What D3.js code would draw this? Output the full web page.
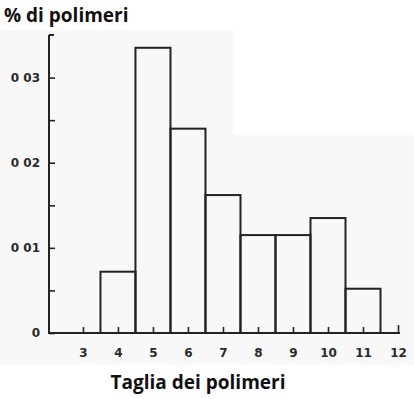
<!DOCTYPE html>
<html lang="it">
<head>
<meta charset="UTF-8">
<title>Taglia dei polimeri</title>
<style>
    body { margin: 0; background: #fff; }
    .tick text { font-family: "DejaVu Sans", sans-serif; font-size: 12px; fill: #2a2a2a; }
    .title { font-family: "Open Sans", "Noto Sans", sans-serif; font-weight: 700; fill: #111; }
</style>
</head>
<body>
<script src="https://cdn.jsdelivr.net/npm/d3@7"></script>
<script>
    // polymer size classes and fractions
    const sizes = [4, 5, 6, 7, 8, 9, 10, 11];
    const fractions = [0.0072, 0.0335, 0.0240, 0.0162, 0.0115, 0.0115, 0.0135, 0.0052];
    const xTicks = [3, 4, 5, 6, 7, 8, 9, 10, 11, 12];
    const yTicks = [0, 0.005, 0.01, 0.015, 0.02, 0.025, 0.03];
    const yTickLabels = { 0: "0", 0.01: "0 01", 0.02: "0 02", 0.03: "0 03" };

    const svg_w = 414, svg_h = 399;
    const x0 = 49, x1 = 400, yBase = 333, yTop = 35;

    const svg = d3.select("body").append("svg")
        .attr("width", svg_w)
        .attr("height", svg_h);

    // faint scanned-paper background
    svg.append("rect").attr("x", 0).attr("y", 30).attr("width", svg_w).attr("height", 335)
        .attr("fill", "#f8f8f8");
    svg.append("rect").attr("x", 233).attr("y", 30).attr("width", svg_w - 233).attr("height", 105)
        .attr("fill", "#fff");

    const x = d3.scaleLinear([2.03, 12], [x0, 398]);
    const y = d3.scaleLinear([0, 0.035], [yBase, yTop]);

    // bars
    svg.append("g").selectAll("rect")
        .data(sizes)
        .join("rect")
        .attr("x", d => x(d - 0.5))
        .attr("y", (d, i) => y(fractions[i]))
        .attr("width", d => x(d + 0.5) - x(d - 0.5))
        .attr("height", (d, i) => yBase - y(fractions[i]))
        .attr("fill", "none")
        .attr("stroke", "#222")
        .attr("stroke-width", 2);

    // x axis
    const xAxis = d3.axisBottom(x).tickValues(xTicks).tickSize(-6).tickPadding(15).tickSizeOuter(0);
    const gx = svg.append("g").attr("transform", `translate(0,${yBase})`).call(xAxis);
    gx.select(".domain").remove();
    gx.selectAll(".tick line").attr("stroke", "#222").attr("stroke-width", 1.6);
    gx.selectAll(".tick").filter(d => d === 12).select("line").attr("y2", -8);
    svg.append("line").attr("x1", x0).attr("x2", x1).attr("y1", yBase).attr("y2", yBase)
        .attr("stroke", "#222").attr("stroke-width", 2);

    // y axis
    const yAxis = d3.axisLeft(y).tickValues(yTicks).tickSize(-6).tickPadding(9).tickSizeOuter(0)
        .tickFormat(d => yTickLabels[d] || "");
    const gy = svg.append("g").attr("transform", `translate(${x0},0)`).call(yAxis);
    gy.select(".domain").remove();
    gy.selectAll(".tick line").attr("stroke", "#222").attr("stroke-width", 1.6);
    gy.selectAll(".tick text").attr("font-weight", 700);
    gx.selectAll(".tick text").attr("font-weight", 700);
    svg.append("line").attr("x1", x0).attr("x2", x0).attr("y1", yTop).attr("y2", yBase + 1)
        .attr("stroke", "#222").attr("stroke-width", 2);
    svg.append("line").attr("x1", x0).attr("x2", x0 + 5).attr("y1", yTop).attr("y2", yTop)
        .attr("stroke", "#222").attr("stroke-width", 2);

    // titles
    svg.append("text").attr("class", "title").attr("x", 4).attr("y", 22)
        .attr("font-size", 19).text("% di polimeri");
    svg.append("text").attr("class", "title").attr("x", 198).attr("y", 389)
        .attr("text-anchor", "middle").attr("font-size", 19).text("Taglia dei polimeri");
</script>
</body>
</html>
